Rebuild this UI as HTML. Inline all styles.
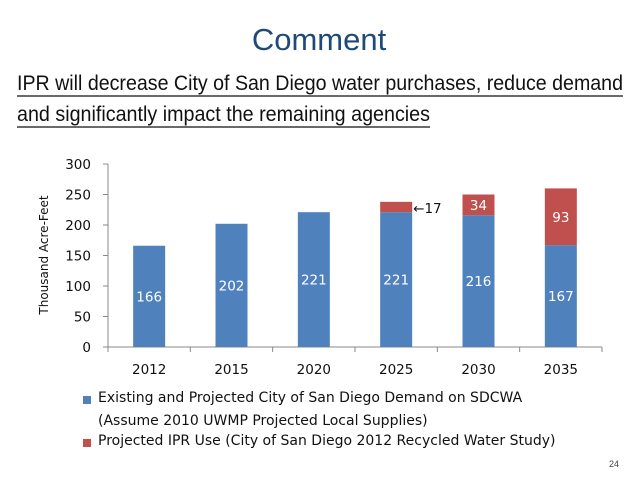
<!DOCTYPE html>
<html><head><meta charset="utf-8"><style>
body{margin:0;background:#fff}
svg{display:block;font-family:"Liberation Sans",sans-serif}
.dv{font-family:"DejaVu Sans",sans-serif}
</style></head><body>
<svg width="638" height="479" viewBox="0 0 638 479">
<text x="319" y="50" text-anchor="middle" font-size="31" fill="#1f4a78">Comment</text>
<text x="17" y="90" font-size="21" textLength="606" lengthAdjust="spacingAndGlyphs" fill="#111">IPR will decrease City of San Diego water purchases, reduce demand</text>
<line x1="17" y1="96" x2="623" y2="96" stroke="#111" stroke-width="1.3"/>
<text x="17" y="121" font-size="21" textLength="413" lengthAdjust="spacingAndGlyphs" fill="#111">and significantly impact the remaining agencies</text>
<line x1="17" y1="127" x2="430" y2="127" stroke="#111" stroke-width="1.3"/>
<g id="chart" class="dv"></g>
<text class="dv" x="48" y="255" font-size="12" fill="#111" text-anchor="middle" transform="rotate(-90 48 255)">Thousand Acre-Feet</text>
<rect x="83" y="396" width="8" height="8" fill="#4f81bd"/>
<text class="dv" x="98" y="402" font-size="14" fill="#111">Existing and Projected City of San Diego Demand on SDCWA</text>
<text class="dv" x="98" y="425" font-size="14" fill="#111">(Assume 2010 UWMP Projected Local Supplies)</text>
<rect x="83" y="439" width="8" height="8" fill="#c0504d"/>
<text class="dv" x="98" y="445" font-size="14" fill="#111">Projected IPR Use (City of San Diego 2012 Recycled Water Study)</text>
<text x="619" y="467" font-size="9" fill="#444" text-anchor="end">24</text>
</svg>
<script>
const categories=["2012","2015","2020","2025","2030","2035"];
const existing=[166,202,221,221,216,167];
const ipr=[0,0,0,17,34,93];
const yTicks=[0,50,100,150,200,250,300];
const NS="http://www.w3.org/2000/svg";
const g=document.getElementById('chart');
const x0=108,x1=602,yb=347,yt=164,ymax=300;
const y=v=>yb-(v/ymax)*(yb-yt);
const step=(x1-x0)/categories.length;
const xc=i=>x0+step*(i+0.5);
const bw=32;
function el(t,a){const e=document.createElementNS(NS,t);for(const k in a)e.setAttribute(k,a[k]);g.appendChild(e);return e;}
let ax=el('line',{x1:x0,y1:yt,x2:x0,y2:yb,stroke:'#888'});


let bx=el('line',{x1:x0,y1:yb,x2:x1,y2:yb,stroke:'#888'});


yTicks.forEach(v=>{
  el('line',{x1:x0-5,y1:y(v),x2:x0,y2:y(v),stroke:'#888'});
  const t=el('text',{x:x0-17,y:y(v)+5,'font-size':13.5,'text-anchor':'end',fill:'#111'});t.textContent=v;
  
  
});
for(let i=0;i<=categories.length;i++)el('line',{x1:x0+step*i,y1:yb,x2:x0+step*i,y2:yb+5,stroke:'#888'});
categories.forEach((c,i)=>{
  const t=el('text',{x:xc(i),y:yb+27,'font-size':13.5,'text-anchor':'middle',fill:'#111'});t.textContent=c;
  
  
  const b=el('rect',{x:xc(i)-bw/2,y:y(existing[i]),width:bw,height:yb-y(existing[i]),fill:'#4f81bd'});
  
  
  const l=el('text',{x:xc(i),y:y(existing[i]/2)+5,'font-size':13.5,'text-anchor':'middle',fill:'#fff'});l.textContent=existing[i];
  
  
  if(ipr[i]>0){
    const top=existing[i]+ipr[i];
    const r=el('rect',{x:xc(i)-bw/2,y:y(top),width:bw,height:y(existing[i])-y(top),fill:'#c0504d'});
    
    
    const m=y(existing[i]+ipr[i]/2);
    if(ipr[i]<25){
      const a=el('text',{x:xc(i)+bw/2+1,y:m+6,'font-size':13.5,fill:'#111'});a.textContent='\u2190'+ipr[i];
      
      
    }else{
      const a=el('text',{x:xc(i),y:m+5,'font-size':13.5,'text-anchor':'middle',fill:'#fff'});a.textContent=ipr[i];
      
      
    }
  }
});
</script>
</body></html>
